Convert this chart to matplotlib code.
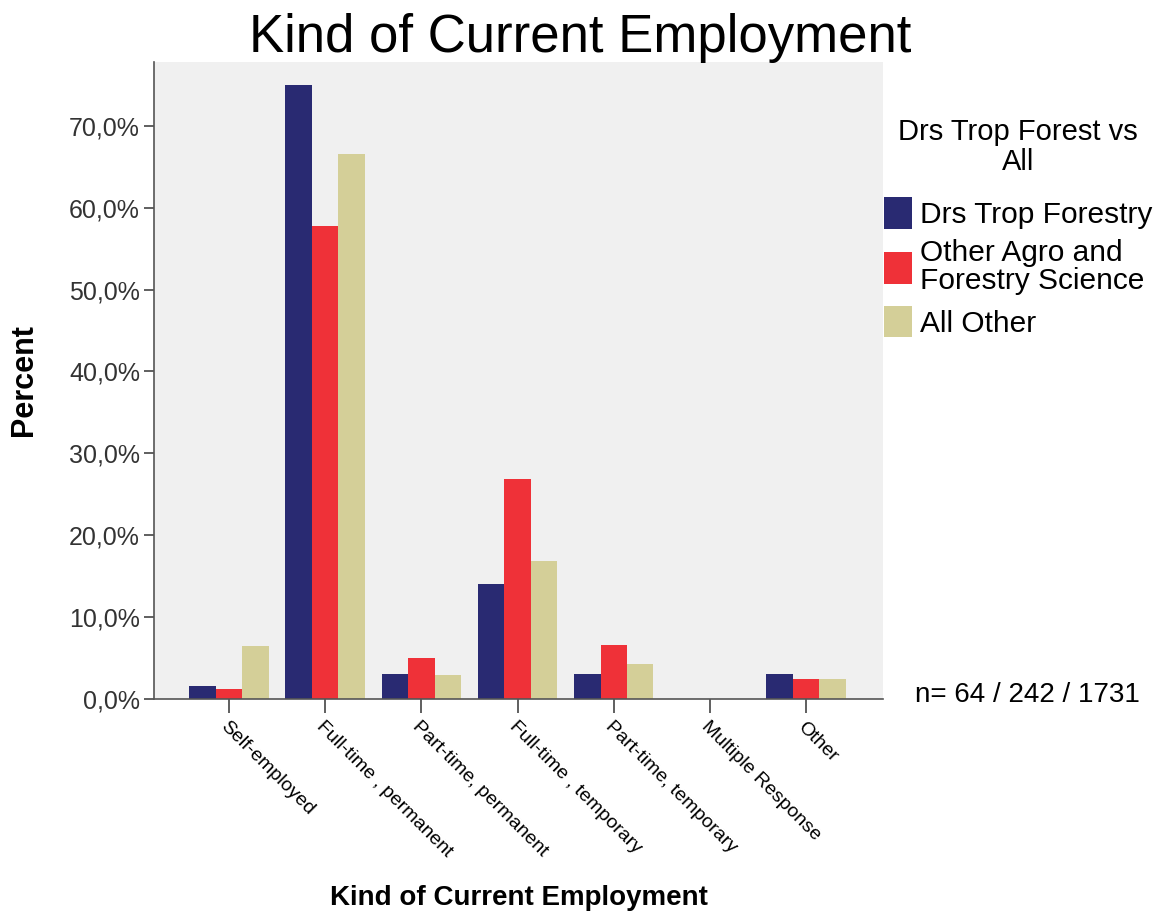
import matplotlib.pyplot as plt
import numpy as np

plt.rcParams['font.family'] = ['Liberation Sans', 'DejaVu Sans']

categories = ["Self-employed", "Full-time , permanent", "Part-time, permanent",
              "Full-time , temporary", "Part-time, temporary", "Multiple Response", "Other"]
series = ["Drs Trop Forestry", "Other Agro and\nForestry Science", "All Other"]
drs_trop = [1.6, 75.0, 3.1, 14.1, 3.1, 0.0, 3.1]
other_agro = [1.2, 57.8, 5.0, 26.9, 6.6, 0.0, 2.5]
all_other = [6.5, 66.6, 2.9, 16.9, 4.3, 0.0, 2.4]
colors = ["#292A72", "#EF3138", "#D4CF98"]

fig = plt.figure(figsize=(11.61, 9.14), dpi=100)
ax = fig.add_axes([0.1326, 0.2352, 0.628, 0.697])
ax.set_facecolor("#F0F0F0")

x = np.arange(len(categories))
w = 0.275
for i, (vals, name) in enumerate(zip([drs_trop, other_agro, all_other], series)):
    ax.bar(x + (i - 1) * w, vals, w, color=colors[i], label=name)

ax.set_xlim(-0.78, 6.8)
ax.set_ylim(0, 77.8)
ax.set_yticks(np.arange(0, 71, 10))
ax.set_yticklabels(["%d,0%%" % v for v in range(0, 71, 10)], fontsize=18, color="#333333")
ax.set_xticks(x)
ax.set_xticklabels(categories, rotation=-45, ha="left", va="top",
                   rotation_mode="anchor", fontsize=14)
ax.tick_params(axis="y", length=7, width=1.2, color="#444444", pad=3)
ax.tick_params(axis="x", length=10, width=1.2, color="#444444", pad=4)
for s in ["top", "right"]:
    ax.spines[s].set_visible(False)
for s in ["left", "bottom"]:
    ax.spines[s].set_color("#555555")
    ax.spines[s].set_linewidth(1.2)

ax.set_ylabel("Percent", fontsize=22, fontweight="bold", labelpad=22)
ax.set_xlabel("Kind of Current Employment", fontsize=20, fontweight="bold", labelpad=17)
fig.text(0.5, 0.943, "Kind of Current Employment", fontsize=38, ha="center", va="baseline")

# legend title drawn separately for spacing control
fig.text(1018 / 1161, 1 - 147 / 914, "Drs Trop Forest vs\nAll", fontsize=21,
         ha="center", va="center", multialignment="center", linespacing=1.1)
leg = fig.legend(loc="upper left", bbox_to_anchor=(884 / 1161, 1 - 197 / 914), frameon=False,
                 fontsize=21.5, handlelength=0.95, handleheight=1.25, handletextpad=0.25,
                 labelspacing=0.35, borderaxespad=0, borderpad=0)
for t in leg.get_texts():
    t.set_linespacing(1.0)

fig.text(1027 / 1161, 1 - 695 / 914, "n= 64 / 242 / 1731", fontsize=20, ha="center", va="center")

fig.savefig("out.png", dpi=100)
